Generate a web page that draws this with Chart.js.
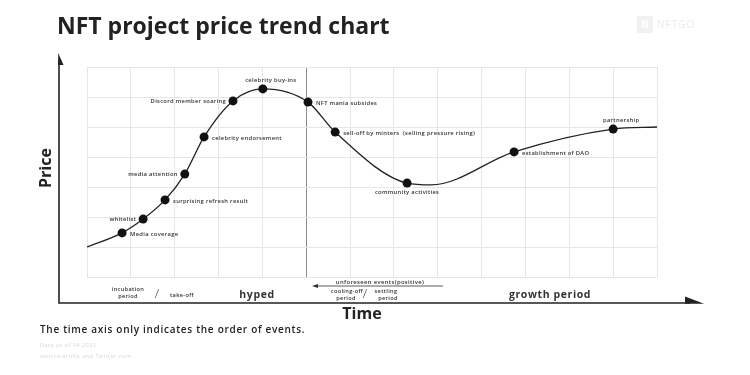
<!DOCTYPE html>
<html>
<head>
<meta charset="utf-8">
<script src="https://cdn.jsdelivr.net/npm/chart.js@4.4.0/dist/chart.umd.min.js"></script>
<style>
  body { margin: 0; background: #fff; }
</style>
</head>
<body>
<canvas id="trendChart" width="750" height="375"></canvas>
<script>
// Time position (grid columns) and price level (grid rows) along the trend curve
const curveX = [0, 0.80, 1.28, 1.78, 2.23, 2.67, 3.33, 4.01, 5.04, 5.66, 7.30, 7.85, 9.74, 12.0, 13];
const curveY = [1.0, 1.47, 1.93, 2.57, 3.43, 4.67, 5.87, 6.27, 5.83, 4.83, 3.13, 3.07, 4.17, 4.93, 5.0];
// Event on each point ('' = just part of the curve)
const eventNames = ['', 'Media coverage', 'whitelist', 'surprising refresh result', 'media attention',
    'celebrity endorsement', 'Discord member soaring', 'celebrity buy-ins', 'NFT mania subsides',
    'sell-off by minters  (selling pressure rising)', 'community activities', '',
    'establishment of DAO', 'partnership', ''];
// where the label sits relative to its point
const labelSide = ['', 'r', 'l', 'r', 'l', 'r', 'l', 'a', 'r', 'r', 'b', '', 'r', 'a', ''];

const xMax = 13;
const yMax = 7;
const separatorAt = 5;

const points = curveX.map((x, i) => ({ x: x, y: curveY[i] }));

const overlay = {
    id: 'overlay',
    afterDatasetsDraw(chart) {
        const ctx = chart.ctx;
        const meta = chart.getDatasetMeta(0);
        ctx.save();
        ctx.fillStyle = '#333';
        ctx.font = '600 5.8px "Open Sans"';
        ctx.letterSpacing = '0.3px';
        ctx.textBaseline = 'middle';
        meta.data.forEach((pt, i) => {
            const name = eventNames[i];
            if (!name) return;
            const side = labelSide[i];
            if (side === 'r') {
                ctx.textAlign = 'left';
                ctx.fillText(name, pt.x + 8, pt.y + 1);
            } else if (side === 'l') {
                ctx.textAlign = 'right';
                ctx.fillText(name, pt.x - 7, pt.y);
            } else if (side === 'a') {
                ctx.textAlign = 'center';
                ctx.fillText(name, pt.x + 8, pt.y - 9);
            } else {
                ctx.textAlign = 'center';
                ctx.fillText(name, pt.x, pt.y + 9);
            }
        });
        ctx.restore();
    },
    afterDraw(chart) {
        const ctx = chart.ctx;
        ctx.save();

        // title
        ctx.fillStyle = '#222';
        ctx.font = 'bold 23px "Open Sans"';
        ctx.textBaseline = 'middle';
        ctx.textAlign = 'left';
        ctx.fillText('NFT project price trend chart', 57, 27);

        // faint logo
        ctx.fillStyle = '#f1f1f1';
        ctx.fillRect(637, 16, 16, 17);
        ctx.fillStyle = '#fff';
        ctx.font = 'bold 10px "Open Sans"';
        ctx.textAlign = 'center';
        ctx.fillText('N', 645, 25);
        ctx.fillStyle = '#ececec';
        ctx.font = '10px "Open Sans"';
        ctx.textAlign = 'left';
        ctx.letterSpacing = '1px';
        ctx.fillText('NFTGO', 657, 25);
        ctx.letterSpacing = '0px';

        // axes with arrows
        ctx.strokeStyle = '#222';
        ctx.fillStyle = '#222';
        ctx.lineWidth = 1.6;
        ctx.beginPath();
        ctx.moveTo(59, 60);
        ctx.lineTo(59, 303);
        ctx.lineTo(690, 303);
        ctx.stroke();
        ctx.beginPath();
        ctx.moveTo(58.2, 53);
        ctx.lineTo(63.5, 65);
        ctx.lineTo(58.2, 65);
        ctx.closePath();
        ctx.fill();
        ctx.beginPath();
        ctx.moveTo(685, 296.5);
        ctx.lineTo(704, 303.8);
        ctx.lineTo(685, 303.8);
        ctx.closePath();
        ctx.fill();

        // axis titles
        ctx.font = 'bold 16px "Open Sans"';
        ctx.textAlign = 'center';
        ctx.fillText('Time', 362, 314);
        ctx.save();
        ctx.translate(46, 168);
        ctx.rotate(-Math.PI / 2);
        ctx.fillText('Price', 0, 0);
        ctx.restore();

        // phase labels under the plot
        ctx.fillStyle = '#333';
        ctx.font = '600 5.6px "Open Sans"';
        ctx.letterSpacing = '0.35px';
        ctx.fillText('incubation', 128, 289);
        ctx.fillText('period', 128, 296.5);
        ctx.fillText('take-off', 182, 295);
        ctx.fillText('cooling-off', 347, 291);
        ctx.fillText('period', 346, 298.5);
        ctx.fillText('settling', 386, 291);
        ctx.fillText('period', 388, 298.5);
        ctx.font = '600 5.9px "Open Sans"';
        ctx.fillText('unforeseen events(positive)', 380, 282);
        ctx.font = '300 13px "Open Sans"';
        ctx.letterSpacing = '0px';
        ctx.fillText('/', 157, 294);
        ctx.fillText('/', 365, 294);
        ctx.font = 'bold 10.5px "Open Sans"';
        ctx.letterSpacing = '0.6px';
        ctx.fillText('hyped', 257, 295);
        ctx.fillText('growth period', 550, 295);

        // arrow of unforeseen events
        ctx.strokeStyle = '#333';
        ctx.lineWidth = 0.8;
        ctx.beginPath();
        ctx.moveTo(314, 286);
        ctx.lineTo(443, 286);
        ctx.stroke();
        ctx.fillStyle = '#333';
        ctx.beginPath();
        ctx.moveTo(312, 286);
        ctx.lineTo(318, 284);
        ctx.lineTo(318, 288);
        ctx.closePath();
        ctx.fill();

        // footnotes
        ctx.textAlign = 'left';
        ctx.fillStyle = '#222';
        ctx.font = '600 10px "Open Sans"';
        ctx.letterSpacing = '0.7px';
        ctx.fillText('The time axis only indicates the order of events.', 40, 330);
        ctx.fillStyle = '#d4d4d4';
        ctx.font = '5.5px "Open Sans"';
        ctx.letterSpacing = '0.5px';
        ctx.fillText('Data as of 04.2022', 40, 345);
        ctx.fillText('source:artifis and Twitter.com', 40, 356);

        ctx.restore();
    }
};

new Chart(document.getElementById('trendChart'), {
    type: 'line',
    data: {
        datasets: [{
            data: points,
            borderColor: '#222',
            borderWidth: 1.3,
            fill: false,
            cubicInterpolationMode: 'monotone',
            pointRadius: eventNames.map(n => n ? 4.5 : 0),
            pointBackgroundColor: '#111',
            pointBorderWidth: 0
        }]
    },
    options: {
        responsive: false,
        animation: false,
        layout: {
            padding: { left: 87, right: 93, top: 67, bottom: 98 }
        },
        plugins: {
            legend: { display: false },
            tooltip: { enabled: false }
        },
        scales: {
            x: {
                type: 'linear',
                min: 0,
                max: xMax,
                ticks: { display: false, stepSize: 1 },
                border: { display: false },
                grid: {
                    drawTicks: false,
                    color: c => c.tick && c.tick.value === separatorAt ? '#8c8c8c' : '#e6e6e6'
                }
            },
            y: {
                min: 0,
                max: yMax,
                ticks: { display: false, stepSize: 1 },
                border: { display: false },
                grid: { drawTicks: false, color: '#e6e6e6' }
            }
        }
    },
    plugins: [overlay]
});
</script>
</body>
</html>
